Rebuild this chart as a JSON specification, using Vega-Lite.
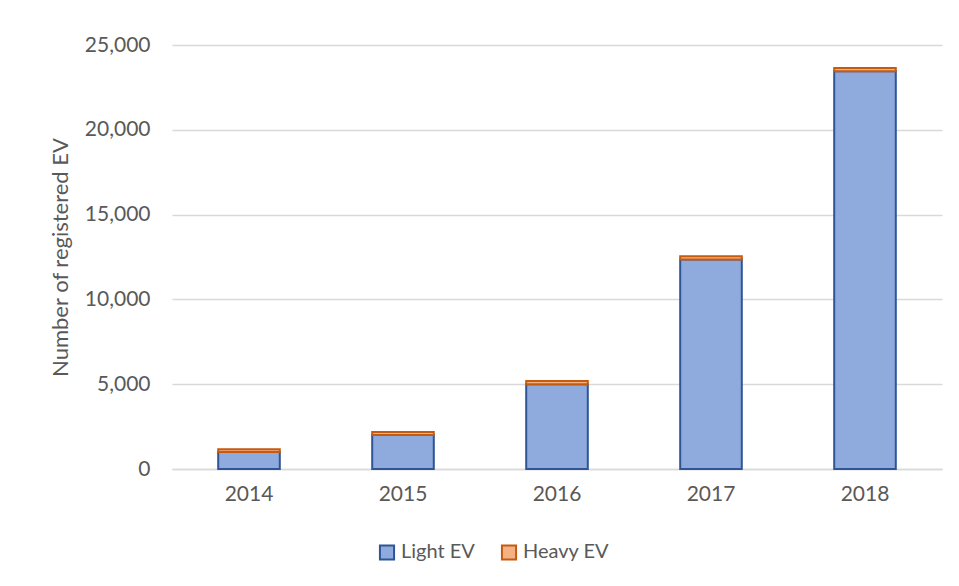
{
  "$schema": "https://vega.github.io/schema/vega-lite/v6.json",
  "width": 770,
  "height": 424,
  "autosize": {"type": "none"},
  "padding": {"left": 172, "top": 45, "right": 17, "bottom": 117},
  "background": "white",
  "config": {
    "font": "Lato",
    "view": {"stroke": null},
    "axis": {"labelColor": "#595959", "titleColor": "#595959", "labelFontSize": 21, "titleFontSize": 22, "titleFontWeight": "normal", "labelFont": "Lato", "titleFont": "Lato"},
    "legend": {"labelColor": "#595959", "labelFontSize": 20, "labelFont": "Lato"}
  },
  "data": {
    "values": [
      {"year": "2014", "series": "Light EV", "count": 1000},
      {"year": "2014", "series": "Heavy EV", "count": 170},
      {"year": "2015", "series": "Light EV", "count": 2000},
      {"year": "2015", "series": "Heavy EV", "count": 180},
      {"year": "2016", "series": "Light EV", "count": 5000},
      {"year": "2016", "series": "Heavy EV", "count": 190},
      {"year": "2017", "series": "Light EV", "count": 12350},
      {"year": "2017", "series": "Heavy EV", "count": 190},
      {"year": "2018", "series": "Light EV", "count": 23450},
      {"year": "2018", "series": "Heavy EV", "count": 200}
    ]
  },
  "mark": {"type": "bar", "strokeWidth": 2},
  "encoding": {
    "x": {
      "field": "year", "type": "nominal", "title": null,
      "scale": {"paddingInner": 0.6, "paddingOuter": 0.3},
      "axis": {"labelAngle": 0, "ticks": false, "domainColor": "#D9D9D9", "domainWidth": 1.5, "labelPadding": 14}
    },
    "y": {
      "field": "count", "type": "quantitative", "stack": "zero",
      "title": "Number of registered EV",
      "scale": {"domain": [0, 25000]},
      "axis": {"values": [0, 5000, 10000, 15000, 20000, 25000], "format": ",d", "domain": false, "ticks": false, "gridColor": "#D9D9D9", "gridWidth": 1.5, "labelPadding": 22, "titlePadding": 12}
    },
    "fill": {
      "field": "series", "type": "nominal", "title": null,
      "scale": {"domain": ["Light EV", "Heavy EV"], "range": ["#8FAADC", "#F4B183"]},
      "legend": {"orient": "none", "direction": "horizontal", "legendX": 205, "legendY": 497, "symbolType": "square", "symbolSize": 200, "symbolStrokeWidth": 2, "columnPadding": 22, "labelOffset": 4}
    },
    "stroke": {
      "field": "series", "type": "nominal", "title": null,
      "scale": {"domain": ["Light EV", "Heavy EV"], "range": ["#2F5597", "#C55A11"]}
    },
    "order": {"field": "series", "sort": "descending"}
  }
}
